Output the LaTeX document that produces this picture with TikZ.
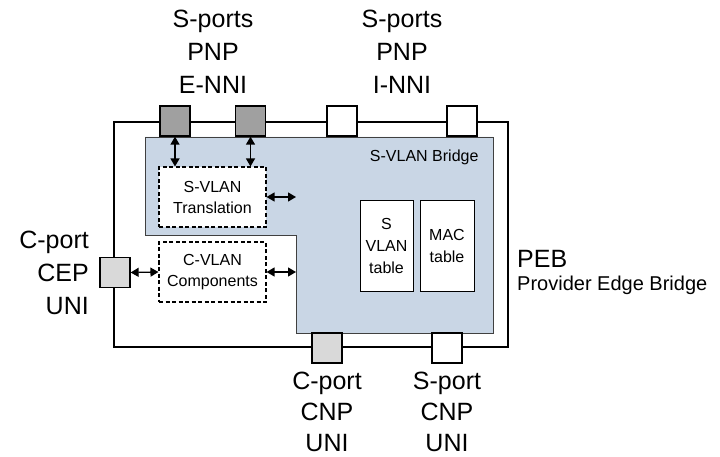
\documentclass[tikz,border=0pt]{standalone}
\usepackage{fontspec}
\setmainfont{Liberation Sans}
\usetikzlibrary{positioning,arrows.meta}

\definecolor{bridgeblue}{RGB}{201,214,229}
\definecolor{darkport}{RGB}{160,160,160}
\definecolor{lightport}{RGB}{217,217,217}

\tikzset{
  port/.style={draw,line width=1.3pt,minimum size=30pt,inner sep=0pt},
  compbox/.style={draw,dashed,line width=1.1pt,dash pattern=on 4pt off 2.5pt,fill=white,
    minimum width=107pt,minimum height=60pt,align=center,inner sep=0pt,
    font=\fontsize{16}{21}\selectfont},
  tablebox/.style={draw,line width=0.8pt,fill=white,minimum height=91pt,align=center,
    inner sep=0pt,font=\fontsize{16}{22}\selectfont},
  biglabel/.style={align=center,inner sep=0pt,font=\fontsize{25}{33}\selectfont},
  both/.style={{Triangle[length=8pt,width=9pt]}-{Triangle[length=8pt,width=9pt]},line width=1.3pt}
}

\begin{document}
\begin{tikzpicture}[x=1pt,y=-1pt]
\useasboundingbox (0,0) rectangle (720,457);

% the bridge outline
\node[draw,line width=1.6pt,minimum width=394pt,minimum height=225pt,inner sep=0pt] (peb) at (311,234.5) {};
\draw[fill=bridgeblue,draw=black!75,line width=0.8pt]
  (145,137) -- (493,137) -- (493,333) -- (296,333) -- (296,235) -- (145,235) -- cycle;
\node[anchor=east,font=\fontsize{16}{20}\selectfont] (svb) at (482,157) {S-VLAN Bridge};

% ports
\node[port,fill=darkport] (e1) at (175,121) {};
\node[port,fill=darkport] (e2) at (250.5,121) {};
\node[port,fill=white] (i1) at (342,121) {};
\node[port,fill=white] (i2) at (462,121) {};
\node[port,fill=lightport] (cep) at (115,272.5) {};
\node[port,fill=lightport] (cnp) at (327,348) {};
\node[port,fill=white] (snp) at (447,348) {};

% components
\node[compbox] (svt) at (212.5,197) {S-VLAN\\Translation};
\node[compbox] (cvc) at (212.5,272) {C-VLAN\\Components};
\node[tablebox,minimum width=53pt] (svtab) at (386.5,245.5) {S\\VLAN\\table};
\node[tablebox,minimum width=54pt] (mactab) at (447,245.5) {MAC\\table};

\coordinate (tr) at (296,197);
\coordinate (cr) at (296,272);
\draw[both] (e1.south) -- (e1.south |- svt.north);
\draw[both] (e2.south) -- (e2.south |- svt.north);
\draw[both] (svt.east) -- (tr);
\draw[both] (cep.east) -- (cvc.west);
\draw[both] (cvc.east) -- (cr);

% labels
\node[biglabel] (enni) at (213,52) {S-ports\\PNP\\E-NNI};
\node[biglabel] (inni) at (402,52) {S-ports\\PNP\\I-NNI};
\node[biglabel,align=right,anchor=east] (ceplab) at (89,273) {C-port\\CEP\\UNI};
\node[biglabel,font=\fontsize{25}{31}\selectfont] (cnplab) at (327,412) {C-port\\CNP\\UNI};
\node[biglabel,font=\fontsize{25}{31}\selectfont] (snplab) at (447,412) {S-port\\CNP\\UNI};
\node[anchor=west,inner sep=0pt,font=\fontsize{25}{30}\selectfont] (peblab) at (517,259) {PEB};
\node[anchor=west,inner sep=0pt,font=\fontsize{20}{24}\selectfont] (pebtext) at (517,285) {Provider Edge Bridge};

\end{tikzpicture}
\end{document}
